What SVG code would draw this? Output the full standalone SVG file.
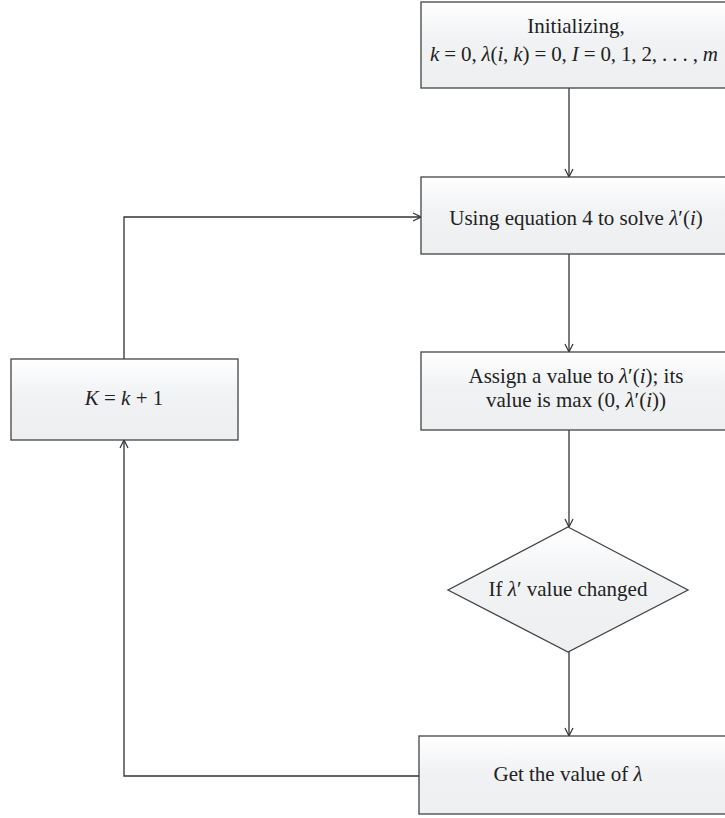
<svg xmlns="http://www.w3.org/2000/svg" width="725" height="818" viewBox="0 0 725 818">
<defs>
<linearGradient id="g" x1="0" y1="0" x2="0" y2="1">
<stop offset="0" stop-color="#ffffff"/>
<stop offset="0.45" stop-color="#f1f2f4"/>
<stop offset="1" stop-color="#eeeff1"/>
</linearGradient>
<marker id="a" viewBox="0 0 10 10" refX="10" refY="5" markerWidth="10" markerHeight="10" markerUnits="userSpaceOnUse" orient="auto">
<path d="M2,1 L10,5 L2,9" fill="none" stroke="#333" stroke-width="1.2"/>
</marker>
<style>
.n{fill:url(#g);stroke:#444;stroke-width:1.3}
.t{font-family:"Liberation Serif","Times New Roman",serif;font-size:21px;fill:#222;text-anchor:middle}
.i{font-style:italic}
.c{fill:none;stroke:#333;stroke-width:1.3}
</style>
</defs>
<g id="connectors">
<path class="c" d="M569,88 V177" marker-end="url(#a)"/>
<path class="c" d="M569,254 V352" marker-end="url(#a)"/>
<path class="c" d="M569,430 V527" marker-end="url(#a)"/>
<path class="c" d="M569,652 V736" marker-end="url(#a)"/>
<path class="c" d="M419,776 H124 V440" marker-end="url(#a)"/>
<path class="c" d="M124,359 V217 H421" marker-end="url(#a)"/>
</g>
<g id="init">
<rect class="n" x="421" y="2" width="312" height="86"/>
<text class="t" x="576" y="33">Initializing,</text>
<text class="t" x="430" y="61" style="text-anchor:start" textLength="288" lengthAdjust="spacing"><tspan class="i">k</tspan> = 0, <tspan class="i">λ</tspan>(<tspan class="i">i</tspan>, <tspan class="i">k</tspan>) = 0, <tspan class="i">I</tspan> = 0, 1, 2, . . . , <tspan class="i">m</tspan></text>
</g>
<g id="solve">
<rect class="n" x="421" y="177" width="312" height="77"/>
<text class="t" x="576" y="225">Using equation 4 to solve <tspan class="i">λ</tspan>′(<tspan class="i">i</tspan>)</text>
</g>
<g id="assign">
<rect class="n" x="421" y="352" width="312" height="78"/>
<text class="t" x="576" y="383">Assign a value to <tspan class="i">λ</tspan>′(<tspan class="i">i</tspan>); its</text>
<text class="t" x="576" y="407">value is max (0, <tspan class="i">λ</tspan>′(<tspan class="i">i</tspan>))</text>
</g>
<g id="decision">
<polygon class="n" points="568,527 688,590 568,652 448,590"/>
<text class="t" x="568" y="596">If <tspan class="i">λ</tspan>′ value changed</text>
</g>
<g id="get">
<rect class="n" x="419" y="736" width="314" height="78"/>
<text class="t" x="568" y="781">Get the value of <tspan class="i">λ</tspan></text>
</g>
<g id="increment">
<rect class="n" x="11" y="359" width="227" height="81"/>
<text class="t" x="124" y="405"><tspan class="i">K</tspan> = <tspan class="i">k</tspan> + 1</text>
</g>
</svg>
